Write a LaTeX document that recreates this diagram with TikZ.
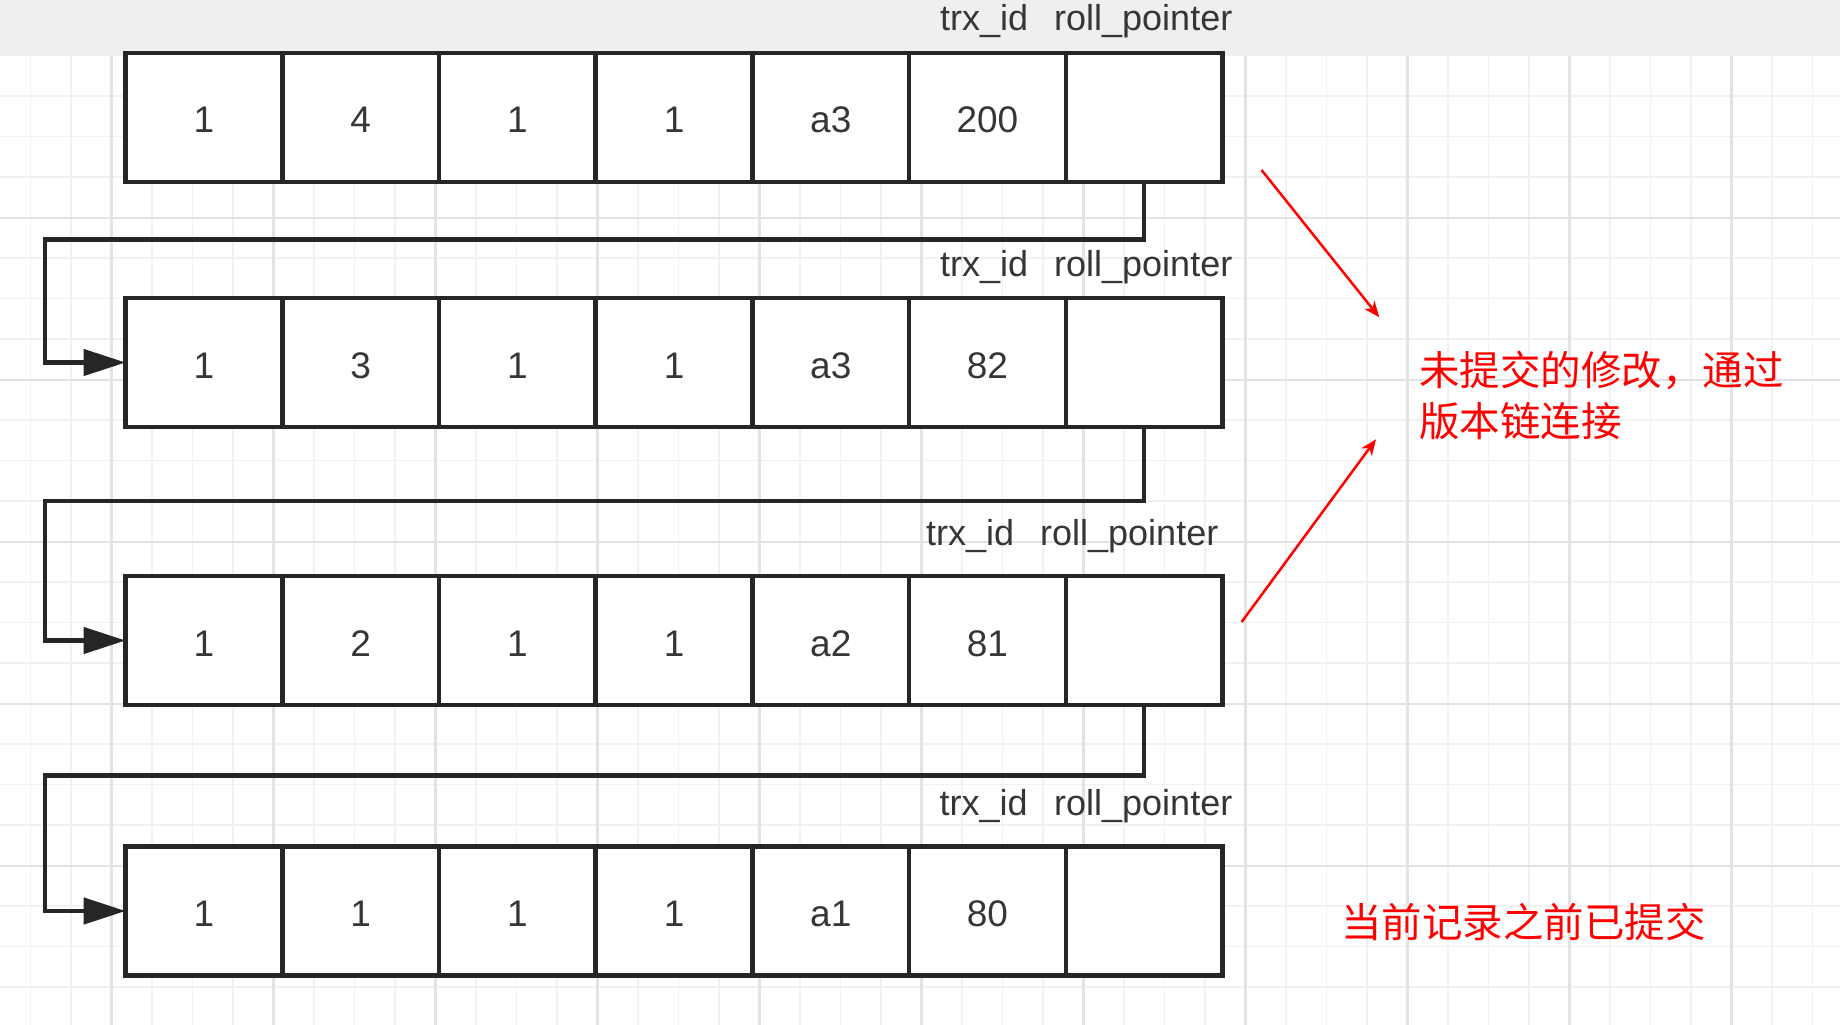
\documentclass[tikz,border=0pt]{standalone}
\usepackage{fontspec}
\setmainfont{Liberation Sans}
\newfontfamily\cjk{Noto Sans CJK SC}
\usetikzlibrary{arrows.meta}
\definecolor{band}{HTML}{EFEFF1}
\definecolor{gminor}{HTML}{F1F1F2}
\definecolor{gmajor}{HTML}{E3E3E5}
\definecolor{ink}{HTML}{262626}
\definecolor{txt}{HTML}{363636}
\begin{document}
\begin{tikzpicture}[x=1pt,y=-1pt,
  cell/.style={draw=ink, line width=4.5pt, fill=white, minimum width=156.7pt, minimum height=129pt, inner sep=0pt, outer sep=0pt, text=txt, text height=31pt, text depth=0pt, font=\fontsize{37}{44}\selectfont},
  lbl/.style={anchor=base west, inner sep=0pt, text=txt, font=\fontsize{36}{43}\selectfont},
  conn/.style={draw=ink, line width=4.5pt, -{Triangle[length=42pt,width=26pt]}},
  redarrow/.style={draw=red, line width=2.5pt, -{Stealth[length=16pt,width=13pt,inset=5pt]}},
  note/.style={anchor=base west, inner sep=0pt, text=red, font=\cjk\fontsize{40.5}{51}\selectfont},
  minorline/.style={draw=gminor, line width=1.5pt},
  majorline/.style={draw=gmajor, line width=2.2pt}]

\useasboundingbox (0,0) rectangle (1840,1025);
\fill[white] (0,0) rectangle (1840,1025);
\fill[band] (0,0) rectangle (1840,55.7);
\foreach \i in {-2,...,42} \draw[minorline] ({111.5+40.5*\i},55.7) -- ({111.5+40.5*\i},1025);
\foreach \j in {0,...,24} \draw[minorline] (0,{55.7+40.5*\j}) -- (1840,{55.7+40.5*\j});
\foreach \i in {0,...,10} \draw[majorline] ({111.5+162*\i},55.7) -- ({111.5+162*\i},1025);
\foreach \j in {1,...,5} \draw[majorline] (0,{55.7+162*\j}) -- (1840,{55.7+162*\j});

% record rows
\foreach \r/\cy/\a/\b/\c/\d/\e/\f in {1/117.3/1/4/1/1/a3/200, 2/362.5/1/3/1/1/a3/82, 3/640.5/1/2/1/1/a2/81, 4/911/1/1/1/1/a1/80} {
  \node[cell] (r\r-c1) at (203.95,\cy) {\a};
  \node[cell] (r\r-c2) at (360.65,\cy) {\b};
  \node[cell] (r\r-c3) at (517.35,\cy) {\c};
  \node[cell] (r\r-c4) at (674.05,\cy) {\d};
  \node[cell] (r\r-c5) at (830.75,\cy) {\e};
  \node[cell] (r\r-c6) at (987.45,\cy) {\f};
  \node[cell] (r\r-c7) at (1144.15,\cy) {};
}

% column labels
\node[lbl] (l1a) at (940,31) {trx\_id};
\node[lbl] (l1b) at (1054,31) {roll\_pointer};
\node[lbl] (l2a) at (940,276) {trx\_id};
\node[lbl] (l2b) at (1054,276) {roll\_pointer};
\node[lbl] (l3a) at (926,545.7) {trx\_id};
\node[lbl] (l3b) at (1040,545.7) {roll\_pointer};
\node[lbl] (l4a) at (939.3,815) {trx\_id};
\node[lbl] (l4b) at (1054,815) {roll\_pointer};

% version chain connectors
\coordinate (t1) at (45,239.4);
\coordinate (t2) at (45,501);
\coordinate (t3) at (45,775.5);
\draw[conn] (r1-c7.south) |- (t1) |- (r2-c1.west);
\draw[conn] (r2-c7.south) |- (t2) |- (r3-c1.west);
\draw[conn] (r3-c7.south) |- (t3) |- (r4-c1.west);

% red annotation arrows
\coordinate (a1s) at (1261.5,170);
\coordinate (a1e) at (1379.3,317.3);
\coordinate (a2s) at (1241.6,622);
\coordinate (a2e) at (1376,439.3);
\draw[redarrow] (a1s) -- (a1e);
\draw[redarrow] (a2s) -- (a2e);

% red notes
\node[note] (n1) at (1419,385) {未提交的修改，通过};
\node[note] (n2) at (1419,436) {版本链连接};
\node[note] (n3) at (1341,937) {当前记录之前已提交};
\end{tikzpicture}
\end{document}
